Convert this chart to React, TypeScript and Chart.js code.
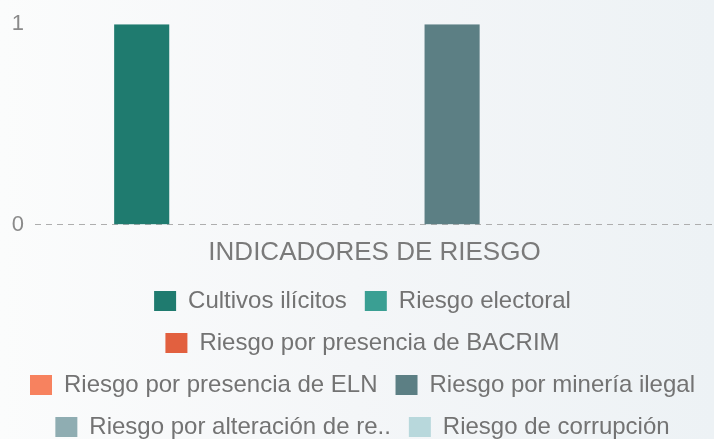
import React, { useEffect, useRef } from "react";
import { Chart, registerables } from "chart.js";

Chart.register(...registerables);

const categories = ["INDICADORES DE RIESGO"];
const seriesNames = [
  "Cultivos ilícitos",
  "Riesgo electoral",
  "Riesgo por presencia de BACRIM",
  "Riesgo por presencia de ELN",
  "Riesgo por minería ilegal",
  "Riesgo por alteración de re..",
  "Riesgo de corrupción",
];
const seriesValues = [1, 0, 0, 0, 1, 0, 0];
const seriesColors = [
  "#1f7b6f",
  "#3a9f93",
  "#e2603f",
  "#f7825f",
  "#5c7f84",
  "#8fadb2",
  "#b8d8dc",
];
const yTicks = [0, 1];

export default function App() {
  const ref = useRef<HTMLCanvasElement>(null);

  useEffect(() => {
    if (!ref.current) return;
    const chart = new Chart(ref.current, {
      type: "bar",
      data: {
        labels: categories,
        datasets: seriesNames.map((name, i) => ({
          label: name,
          data: [seriesValues[i]],
          backgroundColor: seriesColors[i],
          borderWidth: 0,
          barPercentage: 0.71,
          categoryPercentage: 0.8,
        })),
      },
      options: {
        animation: false,
        responsive: true,
        maintainAspectRatio: false,
        layout: { padding: { left: 11, top: 23, right: 0, bottom: 0 } },
        plugins: {
          tooltip: { enabled: false },
          legend: {
            position: "bottom",
            labels: {
              boxWidth: 22,
              boxHeight: 20,
              padding: 18,
              color: "#737373",
              font: { family: "'Liberation Sans', Arial, sans-serif", size: 24 },
            },
          },
        },
        scales: {
          x: {
            grid: { display: false, drawTicks: false },
            ticks: { display: false },
            border: { display: false },
            title: {
              display: true,
              text: categories[0],
              color: "#7a7a7a",
              font: { family: "'Liberation Sans', Arial, sans-serif", size: 26 },
              padding: { top: 12, bottom: 3 },
            },
          },
          y: {
            z: 1,
            min: yTicks[0],
            max: yTicks[yTicks.length - 1],
            afterFit: (scale: any) => {
              scale.width = 24;
            },
            grid: {
              display: true,
              drawTicks: false,
              lineWidth: 1,
              color: (ctx: any) =>
                ctx.tick && ctx.tick.value === 0 ? "#aeaeae" : "rgba(0,0,0,0)",
            },
            border: { display: false, dash: [6, 5] },
            ticks: {
              stepSize: 1,
              padding: 11,
              color: "#8a8a8a",
              font: { family: "'Liberation Sans', Arial, sans-serif", size: 22 },
            },
          },
        },
      },
    });
    return () => chart.destroy();
  }, []);

  return (
    <div
      style={{
        position: "fixed",
        left: 0,
        top: 0,
        width: 714,
        height: 439,
        overflow: "hidden",
        background: "linear-gradient(to right, #fbfcfc 0%, #f4f6f8 50%, #edf2f5 100%)",
      }}
    >
      <div style={{ position: "relative", width: 714, height: 449 }}>
        <canvas ref={ref} />
      </div>
    </div>
  );
}
